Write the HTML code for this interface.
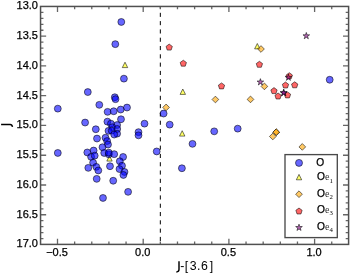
<!DOCTYPE html><html><head><meta charset="utf-8"><style>
html,body{margin:0;padding:0;background:#fff;width:350px;height:273px;overflow:hidden}
svg{display:block;will-change:transform}text{font-family:"Liberation Sans",sans-serif;fill:#000}.b{stroke:#000;stroke-width:.25px}
</style></head><body>
<svg width="350" height="273" viewBox="0 0 350 273">
<rect width="350" height="273" fill="#fff"/>
<defs><clipPath id="c"><rect x="40.55" y="6.45" width="308.05" height="237.95"/></clipPath></defs>
<line x1="160.34" y1="4.5" x2="160.34" y2="244.4" stroke="#000" stroke-width="1" stroke-dasharray="4.1 4.2" clip-path="url(#c)"/>
<g clip-path="url(#c)">
<g fill="#ff0" fill-opacity=".6" stroke="#000" stroke-opacity=".6" stroke-width="0.9" stroke-linejoin="miter">
<path d="M125 62.2L127.7 67.6L122.3 67.6Z"/>
<path d="M182.8 89L185.5 94.4L180.1 94.4Z"/>
<path d="M182.2 130.7L184.9 136.1L179.5 136.1Z"/>
<path d="M109.5 155.7L112.2 161.1L106.8 161.1Z"/>
<path d="M257.3 43.5L260 48.9L254.6 48.9Z"/>
</g>
<g fill="#00f" fill-opacity=".6" stroke="#000" stroke-opacity=".6" stroke-width="0.9">
<circle cx="121.3" cy="21.95" r="3.45"/>
<circle cx="115.3" cy="44.15" r="3.45"/>
<circle cx="123.9" cy="78.65" r="3.45"/>
<circle cx="87.8" cy="92.05" r="3.45"/>
<circle cx="114.8" cy="97.25" r="3.45"/>
<circle cx="115.5" cy="99.15" r="3.45"/>
<circle cx="99.3" cy="104.85" r="3.45"/>
<circle cx="57.8" cy="108.65" r="3.45"/>
<circle cx="107.6" cy="111.85" r="3.45"/>
<circle cx="113.7" cy="111.25" r="3.45"/>
<circle cx="120.7" cy="109.55" r="3.45"/>
<circle cx="127" cy="107.55" r="3.45"/>
<circle cx="85.1" cy="122.55" r="3.45"/>
<circle cx="121" cy="119.25" r="3.45"/>
<circle cx="107.4" cy="121.65" r="3.45"/>
<circle cx="110.9" cy="123.65" r="3.45"/>
<circle cx="117.1" cy="125.05" r="3.45"/>
<circle cx="112.3" cy="127.25" r="3.45"/>
<circle cx="117.2" cy="128.95" r="3.45"/>
<circle cx="108.5" cy="130.85" r="3.45"/>
<circle cx="111.7" cy="130.65" r="3.45"/>
<circle cx="117.1" cy="133.65" r="3.45"/>
<circle cx="114.2" cy="134.55" r="3.45"/>
<circle cx="144.5" cy="123.65" r="3.45"/>
<circle cx="95.8" cy="129.25" r="3.45"/>
<circle cx="138.5" cy="132.15" r="3.45"/>
<circle cx="138.5" cy="135.35" r="3.45"/>
<circle cx="97" cy="138.55" r="3.45"/>
<circle cx="105.5" cy="137.75" r="3.45"/>
<circle cx="107.1" cy="141.05" r="3.45"/>
<circle cx="108" cy="144.55" r="3.45"/>
<circle cx="102.5" cy="147.25" r="3.45"/>
<circle cx="93.6" cy="150.55" r="3.45"/>
<circle cx="87.3" cy="152.45" r="3.45"/>
<circle cx="91.1" cy="156.85" r="3.45"/>
<circle cx="94.7" cy="155.65" r="3.45"/>
<circle cx="104.2" cy="152.95" r="3.45"/>
<circle cx="108.8" cy="154.35" r="3.45"/>
<circle cx="108.8" cy="152.65" r="3.45"/>
<circle cx="114.2" cy="154.15" r="3.45"/>
<circle cx="93.1" cy="162.65" r="3.45"/>
<circle cx="88.3" cy="167.85" r="3.45"/>
<circle cx="96.3" cy="166.85" r="3.45"/>
<circle cx="98.3" cy="170.45" r="3.45"/>
<circle cx="110" cy="166.25" r="3.45"/>
<circle cx="123.1" cy="156.95" r="3.45"/>
<circle cx="119.8" cy="161.25" r="3.45"/>
<circle cx="122" cy="165.75" r="3.45"/>
<circle cx="119.5" cy="169.05" r="3.45"/>
<circle cx="124.5" cy="171.95" r="3.45"/>
<circle cx="123.4" cy="174.95" r="3.45"/>
<circle cx="96.7" cy="178.85" r="3.45"/>
<circle cx="113.2" cy="180.75" r="3.45"/>
<circle cx="128.1" cy="191.85" r="3.45"/>
<circle cx="103" cy="197.95" r="3.45"/>
<circle cx="57.8" cy="152.95" r="3.45"/>
<circle cx="156.7" cy="151.45" r="3.45"/>
<circle cx="163.6" cy="113.55" r="3.45"/>
<circle cx="169.7" cy="124.65" r="3.45"/>
<circle cx="192.5" cy="143.85" r="3.45"/>
<circle cx="181.9" cy="168.25" r="3.45"/>
<circle cx="214.2" cy="131.35" r="3.45"/>
<circle cx="237.7" cy="128.65" r="3.45"/>
<circle cx="329.7" cy="79.75" r="3.45"/>
</g>
<g fill="#ffa500" fill-opacity=".6" stroke="#000" stroke-opacity=".6" stroke-width="0.9">
<path d="M261 45.65L264.35 49L261 52.35L257.65 49Z"/>
<path d="M264.4 83.05L267.75 86.4L264.4 89.75L261.05 86.4Z"/>
<path d="M250.5 96.05L253.85 99.4L250.5 102.75L247.15 99.4Z"/>
<path d="M215.4 96.15L218.75 99.5L215.4 102.85L212.05 99.5Z"/>
<path d="M166.1 104.05L169.45 107.4L166.1 110.75L162.75 107.4Z"/>
<path d="M276.2 128.85L279.55 132.2L276.2 135.55L272.85 132.2Z"/>
<path d="M276.2 128.85L279.55 132.2L276.2 135.55L272.85 132.2Z"/>
<path d="M272.8 133.15L276.15 136.5L272.8 139.85L269.45 136.5Z"/>
<path d="M302.3 143.55L305.65 146.9L302.3 150.25L298.95 146.9Z"/>
</g>
<g fill="#f00" fill-opacity=".6" stroke="#000" stroke-opacity=".6" stroke-width="0.9">
<path d="M169.2 44.12L166.06 46.4L167.26 50.08L171.14 50.08L172.34 46.4Z"/>
<path d="M183.3 60.22L180.16 62.5L181.36 66.18L185.24 66.18L186.44 62.5Z"/>
<path d="M221.5 82.92L218.36 85.2L219.56 88.88L223.44 88.88L224.64 85.2Z"/>
<path d="M259.4 61.32L256.26 63.6L257.46 67.28L261.34 67.28L262.54 63.6Z"/>
<path d="M289.3 72.72L286.16 75L287.36 78.68L291.24 78.68L292.44 75Z"/>
<path d="M285.5 82.02L282.36 84.3L283.56 87.98L287.44 87.98L288.64 84.3Z"/>
<path d="M294.7 81.82L291.56 84.1L292.76 87.78L296.64 87.78L297.84 84.1Z"/>
<path d="M274 87.62L270.86 89.9L272.06 93.58L275.94 93.58L277.14 89.9Z"/>
<path d="M287.5 91.92L284.36 94.2L285.56 97.88L289.44 97.88L290.64 94.2Z"/>
<path d="M278.1 93.02L274.96 95.3L276.16 98.98L280.04 98.98L281.24 95.3Z"/>
</g>
<g fill="#800080" fill-opacity=".6" stroke="#000" stroke-opacity=".6" stroke-width="0.9">
<path d="M306.3 32.43L305.51 34.85L302.97 34.85L305.03 36.35L304.24 38.77L306.3 37.27L308.36 38.77L307.57 36.35L309.63 34.85L307.09 34.85Z"/>
<path d="M260.4 78.63L259.61 81.05L257.07 81.05L259.13 82.55L258.34 84.97L260.4 83.47L262.46 84.97L261.67 82.55L263.73 81.05L261.19 81.05Z"/>
<path d="M288.4 74.03L287.61 76.45L285.07 76.45L287.13 77.95L286.34 80.37L288.4 78.87L290.46 80.37L289.67 77.95L291.73 76.45L289.19 76.45Z"/>
<path d="M283.7 89.33L282.91 91.75L280.37 91.75L282.43 93.25L281.64 95.67L283.7 94.17L285.76 95.67L284.97 93.25L287.03 91.75L284.49 91.75Z"/>
<path d="M283.7 89.33L282.91 91.75L280.37 91.75L282.43 93.25L281.64 95.67L283.7 94.17L285.76 95.67L284.97 93.25L287.03 91.75L284.49 91.75Z"/>
</g>
</g>
<path d="M57.5 244.4v-5.6M57.5 6.45v5.6M74.64 244.4v-2.9M74.64 6.45v2.9M91.78 244.4v-2.9M91.78 6.45v2.9M108.92 244.4v-2.9M108.92 6.45v2.9M126.06 244.4v-2.9M126.06 6.45v2.9M143.2 244.4v-5.6M143.2 6.45v5.6M160.34 244.4v-2.9M160.34 6.45v2.9M177.48 244.4v-2.9M177.48 6.45v2.9M194.62 244.4v-2.9M194.62 6.45v2.9M211.76 244.4v-2.9M211.76 6.45v2.9M228.9 244.4v-5.6M228.9 6.45v5.6M246.04 244.4v-2.9M246.04 6.45v2.9M263.18 244.4v-2.9M263.18 6.45v2.9M280.32 244.4v-2.9M280.32 6.45v2.9M297.46 244.4v-2.9M297.46 6.45v2.9M314.6 244.4v-5.6M314.6 6.45v5.6M331.74 244.4v-2.9M331.74 6.45v2.9M40.55 12.38h2.9M348.6 12.38h-2.9M40.55 18.33h2.9M348.6 18.33h-2.9M40.55 24.29h2.9M348.6 24.29h-2.9M40.55 30.24h2.9M348.6 30.24h-2.9M40.55 36.19h5.6M348.6 36.19h-5.6M40.55 42.14h2.9M348.6 42.14h-2.9M40.55 48.09h2.9M348.6 48.09h-2.9M40.55 54.05h2.9M348.6 54.05h-2.9M40.55 60h2.9M348.6 60h-2.9M40.55 65.95h5.6M348.6 65.95h-5.6M40.55 71.9h2.9M348.6 71.9h-2.9M40.55 77.85h2.9M348.6 77.85h-2.9M40.55 83.81h2.9M348.6 83.81h-2.9M40.55 89.76h2.9M348.6 89.76h-2.9M40.55 95.71h5.6M348.6 95.71h-5.6M40.55 101.66h2.9M348.6 101.66h-2.9M40.55 107.61h2.9M348.6 107.61h-2.9M40.55 113.57h2.9M348.6 113.57h-2.9M40.55 119.52h2.9M348.6 119.52h-2.9M40.55 125.47h5.6M348.6 125.47h-5.6M40.55 131.42h2.9M348.6 131.42h-2.9M40.55 137.37h2.9M348.6 137.37h-2.9M40.55 143.33h2.9M348.6 143.33h-2.9M40.55 149.28h2.9M348.6 149.28h-2.9M40.55 155.23h5.6M348.6 155.23h-5.6M40.55 161.18h2.9M348.6 161.18h-2.9M40.55 167.13h2.9M348.6 167.13h-2.9M40.55 173.09h2.9M348.6 173.09h-2.9M40.55 179.04h2.9M348.6 179.04h-2.9M40.55 184.99h5.6M348.6 184.99h-5.6M40.55 190.94h2.9M348.6 190.94h-2.9M40.55 196.89h2.9M348.6 196.89h-2.9M40.55 202.85h2.9M348.6 202.85h-2.9M40.55 208.8h2.9M348.6 208.8h-2.9M40.55 214.75h5.6M348.6 214.75h-5.6M40.55 220.7h2.9M348.6 220.7h-2.9M40.55 226.65h2.9M348.6 226.65h-2.9M40.55 232.61h2.9M348.6 232.61h-2.9M40.55 238.56h2.9M348.6 238.56h-2.9" stroke="#666" stroke-width="1.3" fill="none"/>
<rect x="40.55" y="6.45" width="308.05" height="237.95" fill="none" stroke="#505050" stroke-width="1.5"/>
<text x="38" y="9.33" font-size="11" text-anchor="end" class="b">13.0</text>
<text x="38" y="39.09" font-size="11" text-anchor="end" class="b">13.5</text>
<text x="38" y="68.85" font-size="11" text-anchor="end" class="b">14.0</text>
<text x="38" y="98.61" font-size="11" text-anchor="end" class="b">14.5</text>
<text x="38" y="128.37" font-size="11" text-anchor="end" class="b">15.0</text>
<text x="38" y="158.13" font-size="11" text-anchor="end" class="b">15.5</text>
<text x="38" y="187.89" font-size="11" text-anchor="end" class="b">16.0</text>
<text x="38" y="217.65" font-size="11" text-anchor="end" class="b">16.5</text>
<text x="38" y="247.41" font-size="11" text-anchor="end" class="b">17.0</text>
<text x="57" y="256.2" font-size="11" text-anchor="middle" class="b">−0.5</text>
<text x="142.7" y="256.2" font-size="11" text-anchor="middle" class="b">0.0</text>
<text x="228.4" y="256.2" font-size="11" text-anchor="middle" class="b">0.5</text>
<text x="314.1" y="256.2" font-size="11" text-anchor="middle" class="b">1.0</text>
<path d="M179 261.2V269.6Q179 271.7 176.3 272.1" fill="none" stroke="#000" stroke-width="1.45"/>
<text x="180.36 184.73 189.73 196.88 201.07 209.8" y="269.6" font-size="12.3">-[3.6]</text>
<path d="M1.1 124.5H10.2C11.5 124.5 12.2 125.3 12.5 126.9" fill="none" stroke="#000" stroke-width="1.45"/>
<rect x="285" y="154.6" width="52.3" height="83" fill="#fff" stroke="#4a4a4a" stroke-width="1.35"/>
<circle cx="299.0" cy="162.9" r="3.5" fill="#00f" fill-opacity=".6" stroke="#000" stroke-opacity=".6" stroke-width="0.9"/>
<g fill="#ff0" fill-opacity=".6" stroke="#000" stroke-opacity=".6" stroke-width="0.9"><path d="M299 174.4L301.7 179.8L296.3 179.8Z"/></g>
<g fill="#ffa500" fill-opacity=".6" stroke="#000" stroke-opacity=".6" stroke-width="0.9"><path d="M299 190.85L302.35 194.2L299 197.55L295.65 194.2Z"/></g>
<g fill="#f00" fill-opacity=".6" stroke="#000" stroke-opacity=".6" stroke-width="0.9"><path d="M299 208.02L295.86 210.3L297.06 213.98L300.94 213.98L302.14 210.3Z"/></g>
<g fill="#800080" fill-opacity=".6" stroke="#000" stroke-opacity=".6" stroke-width="0.9"><path d="M299 224.13L298.21 226.55L295.67 226.55L297.73 228.05L296.94 230.47L299 228.97L301.06 230.47L300.27 228.05L302.33 226.55L299.79 226.55Z"/></g>
<text x="316.2" y="166.1" font-size="10.2" class="b">O</text>
<text x="316.9" y="180.4" font-size="10.2"><tspan class="b">O</tspan><tspan font-size="10" fill="#333" style="font-family:Liberation Serif" dx="0.2">e</tspan></text><text x="329.5" y="182.60" font-size="6.8" fill="#444" style="font-family:Liberation Serif">1</text>
<text x="316.9" y="196.8" font-size="10.2"><tspan class="b">O</tspan><tspan font-size="10" fill="#333" style="font-family:Liberation Serif" dx="0.2">e</tspan></text><text x="329.5" y="199.00" font-size="6.8" fill="#444" style="font-family:Liberation Serif">2</text>
<text x="316.9" y="213.2" font-size="10.2"><tspan class="b">O</tspan><tspan font-size="10" fill="#333" style="font-family:Liberation Serif" dx="0.2">e</tspan></text><text x="329.5" y="215.40" font-size="6.8" fill="#444" style="font-family:Liberation Serif">3</text>
<text x="316.9" y="229.7" font-size="10.2"><tspan class="b">O</tspan><tspan font-size="10" fill="#333" style="font-family:Liberation Serif" dx="0.2">e</tspan></text><text x="329.5" y="231.90" font-size="6.8" fill="#444" style="font-family:Liberation Serif">4</text>
</svg></body></html>
